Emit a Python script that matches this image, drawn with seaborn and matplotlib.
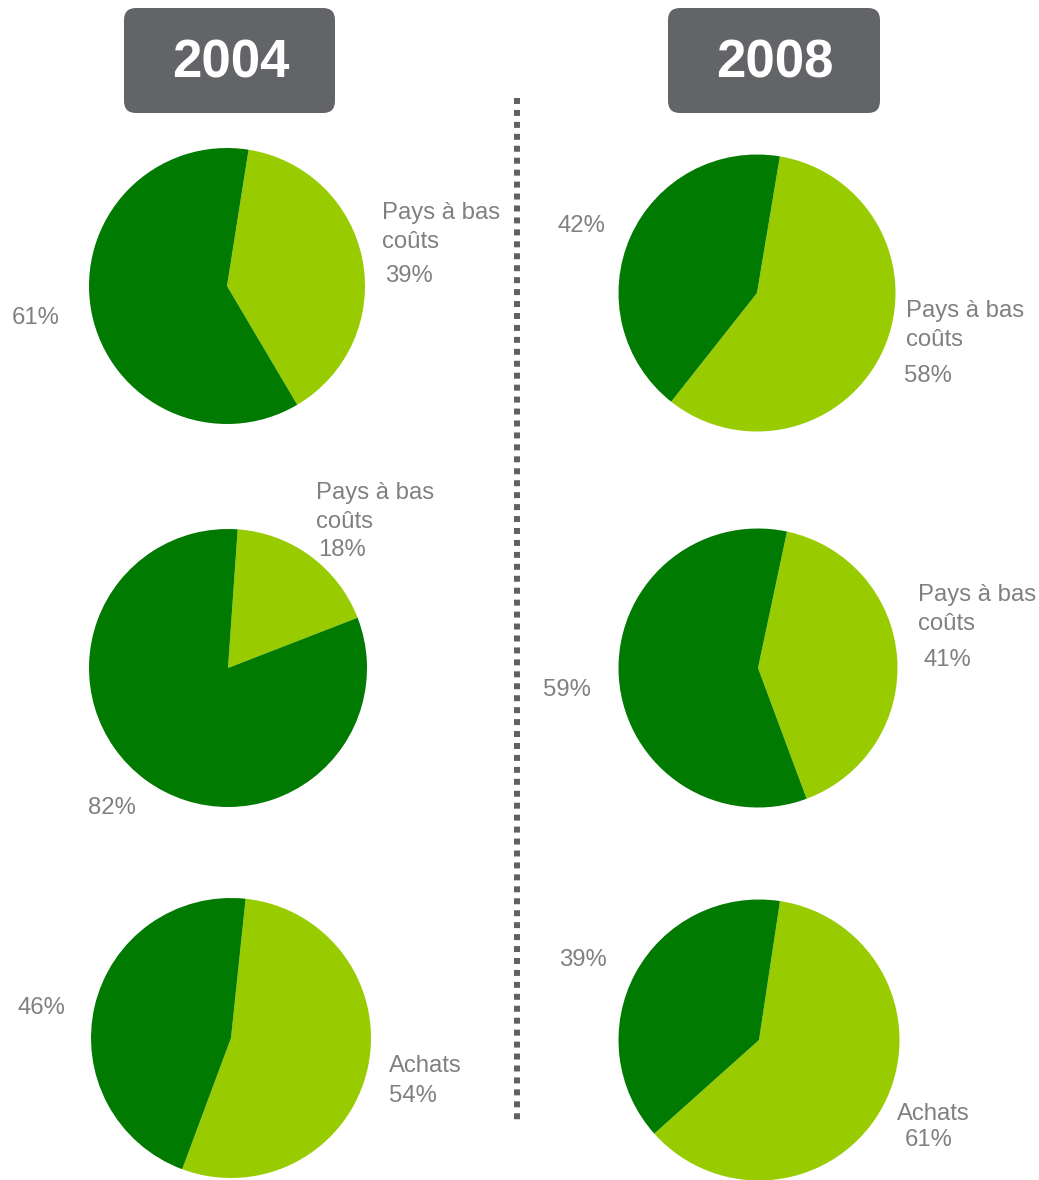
import matplotlib
matplotlib.use("Agg")
import matplotlib.pyplot as plt
import seaborn as sns
from matplotlib.patches import FancyBboxPatch

# ---- data ----
years = ["2004", "2008"]
low_cost_2004 = [39, 18, 54]   # light-green share per pie (2004)
other_2004 = [61, 82, 46]      # dark-green share per pie (2004)
low_cost_2008 = [58, 41, 61]
other_2008 = [42, 59, 39]

sns.set_theme(style="white")
plt.rcParams['font.family'] = ['Liberation Sans', 'DejaVu Sans']

W, H = 1039, 1180
fig = plt.figure(figsize=(W / 100, H / 100), dpi=100)
ax = fig.add_axes([0, 0, 1, 1])

DARK = "#007A00"
LIGHT = "#99CC00"
GREY = "#808080"
BOX = "#636467"

def Y(y):
    return H - y

# layout: (center x, center y, radius, start angle of light slice)
layout = [
    [(227, 286, 138, 81), (228, 668, 139, 86), (231, 1038, 140, 84)],
    [(757, 293, 138.5, 80.5), (758, 668, 139.5, 78), (759, 1040, 140.5, 81.4)],
]
values = [(low_cost_2004, other_2004), (low_cost_2008, other_2008)]

for col in range(2):
    lows, others = values[col]
    for row in range(3):
        cx, cy, r, start = layout[col][row]
        ax.pie([lows[row], others[row]], colors=[LIGHT, DARK], startangle=start,
               counterclock=False, center=(cx, Y(cy)), radius=r,
               wedgeprops=dict(linewidth=0), frame=True)

# ---- labels (text, x, y-center) ----
fs = 17.2
dy = 2.5
labels = [
    # pie 1 (2004 top)
    (f"{other_2004[0]}%", 12, 316),
    ("Pays à bas", 382, 210), ("coûts", 382, 239), (f"{low_cost_2004[0]}%", 385, 273),
    # pie 2
    ("Pays à bas", 316, 490), ("coûts", 316, 519), (f"{low_cost_2004[1]}%", 318, 547),
    (f"{other_2004[1]}%", 88, 806),
    # pie 3
    (f"{other_2004[2]}%", 18, 1005),
    ("Achats", 389, 1064), (f"{low_cost_2004[2]}%", 389, 1093),
    # pie 4 (2008 top)
    (f"{other_2008[0]}%", 557, 223),
    ("Pays à bas", 906, 309), ("coûts", 906, 338), (f"{low_cost_2008[0]}%", 904, 374),
    # pie 5
    ("Pays à bas", 918, 593), ("coûts", 918, 622), (f"{low_cost_2008[1]}%", 923, 657),
    (f"{other_2008[1]}%", 543, 688),
    # pie 6
    (f"{other_2008[2]}%", 559, 957),
    ("Achats", 897, 1112), (f"{low_cost_2008[2]}%", 905, 1138),
]
for txt, x, y in labels:
    ax.text(x, Y(y + dy), txt, ha="left", va="center", fontsize=fs, color=GREY)

# ---- year header boxes ----
for yr, (x0, x1) in zip(years, [(124, 335), (668, 880)]):
    box = FancyBboxPatch((x0 + 12, Y(113) + 12), (x1 - x0) - 24, 105 - 24,
                         boxstyle="round,pad=12,rounding_size=12",
                         facecolor=BOX, edgecolor="none")
    ax.add_patch(box)
    ax.text((x0 + x1) / 2 + 1, Y(63), yr, ha="center", va="center",
            fontsize=38, fontweight="bold", color="white")

# ---- dotted separator ----
ax.plot([517, 517], [Y(98), Y(1122)], color="#5f6062", linewidth=4.3,
        linestyle=(0, (1, 1)), solid_capstyle="butt", dash_capstyle="butt")

ax.set_xlim(0, W)
ax.set_ylim(0, H)
ax.set_aspect("auto")
ax.axis("off")

fig.savefig("out.png", dpi=100)
